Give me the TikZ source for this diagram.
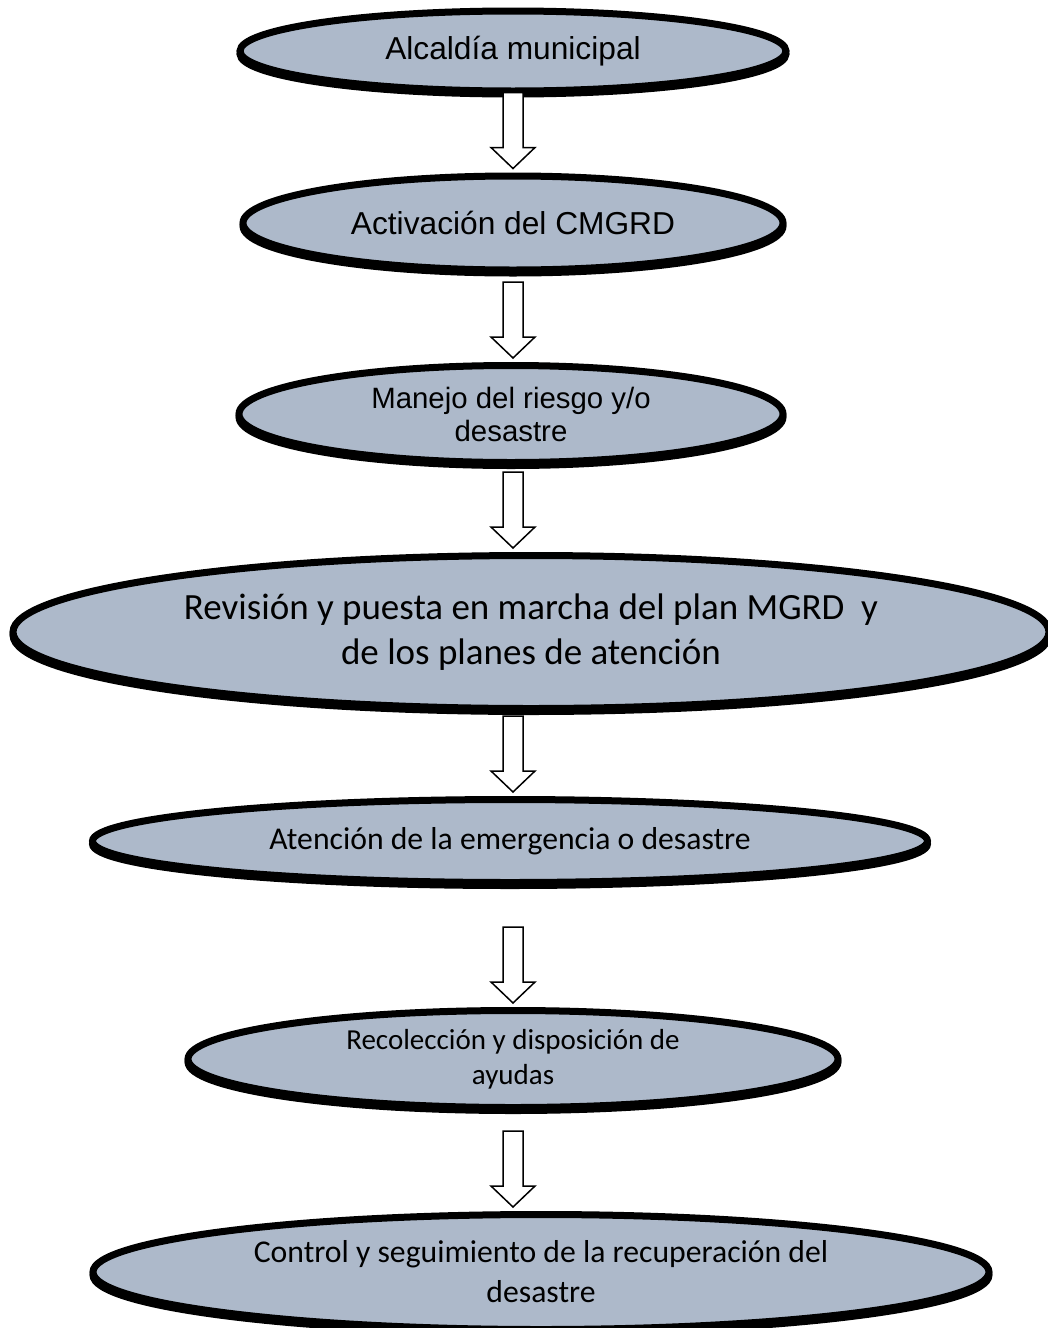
\documentclass[tikz,border=0pt]{standalone}
\usepackage{fontspec}
\setmainfont{Liberation Sans}
\newfontfamily\calibri{Carlito}
\usetikzlibrary{shapes.geometric,calc}

\definecolor{relleno}{HTML}{ADB9CA}

\tikzset{
  elipse/.style={ellipse, draw=black, line width=7pt, fill=relleno,
    inner sep=0pt, align=center,
    preaction={draw=black, line width=7pt, transform canvas={yshift=-3pt}}},
  flecha/.style={draw=black, line width=1.5pt, fill=white, line join=miter}
}

% flecha hueca que termina en el borde superior del nodo #1
\newcommand{\flechabloque}[1]{%
  \path[flecha] let \p1=(eje), \p2=(#1.north) in
    (\x1-10pt,\y2+80pt) -- (\x1+10pt,\y2+80pt) -- (\x1+10pt,\y2+25pt)
    -- (\x1+22pt,\y2+25pt) -- (\x1,\y2+4pt) -- (\x1-22pt,\y2+25pt)
    -- (\x1-10pt,\y2+25pt) -- cycle;}

\begin{document}
\begin{tikzpicture}[x=1pt,y=-1pt]
  \clip (0,0) rectangle (1048,1328);
  \coordinate (eje) at (513,0);

  % elipses
  \node[elipse, minimum width=546, minimum height=80,
    font=\fontsize{31.7}{38}\selectfont] (alcaldia) at (513,51)
    {Alcaldía municipal};
  \node[elipse, minimum width=540, minimum height=94,
    font=\fontsize{31.7}{38}\selectfont] (activacion) at (513,223)
    {Activación del CMGRD};
  \node[elipse, minimum width=544, minimum height=97,
    font=\fontsize{29.4}{33}\selectfont] (manejo) at (511,414)
    {Manejo del riesgo y/o\\desastre};
  \node[elipse, minimum width=1036, minimum height=153,
    font=\calibri\fontsize{37}{45}\selectfont] (revision) at (531,632)
    {Revisión y puesta en marcha del plan MGRD~ y\\de los planes de atención};
  \node[elipse, minimum width=835, minimum height=83,
    font=\calibri\fontsize{31.7}{38}\selectfont] (atencion) at (510,841)
    {Atención de la emergencia o desastre};
  \node[elipse, minimum width=650, minimum height=97,
    font=\calibri\fontsize{29}{35}\selectfont] (recoleccion) at (513,1059)
    {Recolección y disposición de\\ayudas};
  \node[elipse, minimum width=896, minimum height=115,
    font=\calibri\fontsize{31.7}{40}\selectfont] (control) at (541,1272)
    {Control y seguimiento de la recuperación del\\desastre};

  % flechas
  \flechabloque{activacion}
  \flechabloque{manejo}
  \flechabloque{revision}
  \flechabloque{atencion}
  \flechabloque{recoleccion}
  \flechabloque{control}

\end{tikzpicture}
\end{document}
